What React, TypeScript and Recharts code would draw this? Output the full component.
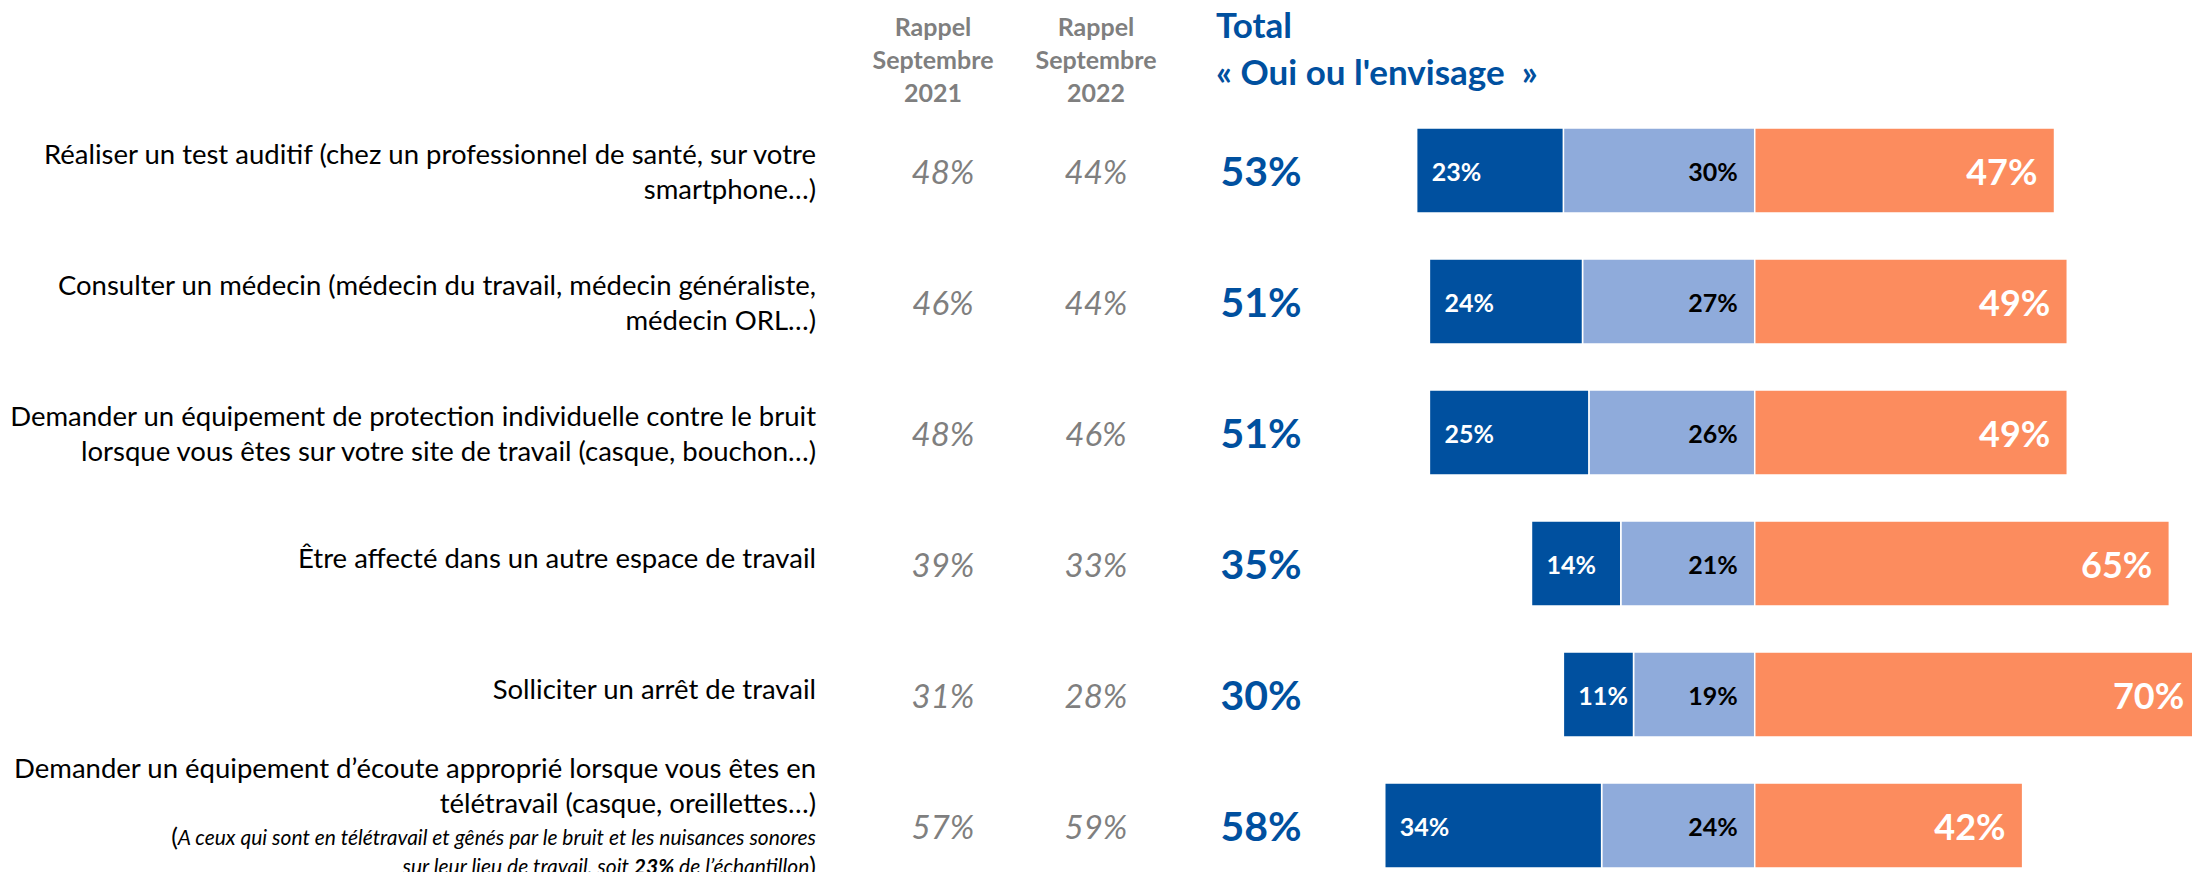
import React from 'react';
import { BarChart, Bar, XAxis, YAxis, LabelList } from 'recharts';

const FONT = 'Lato, "Open Sans", sans-serif';
const BLUE = '#00509F';
const LIGHT = '#8FABDB';
const ORANGE = '#FC8C5E';
const GREY = '#7F7F7F';

// libellés des actions (une entrée par ligne de texte)
const items: string[][] = [
  ['Réaliser un test auditif (chez un professionnel de santé, sur votre', 'smartphone…)'],
  ['Consulter un médecin (médecin du travail, médecin généraliste,', 'médecin ORL…)'],
  ['Demander un équipement de protection individuelle contre le bruit', 'lorsque vous êtes sur votre site de travail (casque, bouchon…)'],
  ['Être affecté dans un autre espace de travail'],
  ['Solliciter un arrêt de travail'],
  ['Demander un équipement d\u2019écoute approprié lorsque vous êtes en', 'télétravail (casque, oreillettes…)'],
];
const noteLine1 = 'A ceux qui sont en télétravail et gênés par le bruit et les nuisances sonores';
const noteLine2a = 'sur leur lieu de travail, soit ';
const noteLine2b = '23%';
const noteLine2c = ' de l\u2019échantillon';

const rappel2021 = [48, 46, 48, 39, 31, 57];
const rappel2022 = [44, 44, 46, 33, 28, 59];
const totalOui = [53, 51, 51, 35, 30, 58];
const ouiFait = [23, 24, 25, 14, 11, 34];
const envisage = [30, 27, 26, 21, 19, 24];
const non = [47, 49, 49, 65, 70, 42];

const data = items.map((lines, i) => ({
  name: lines.join(' '),
  envisage: -envisage[i],
  fait: -ouiFait[i],
  non: non[i],
}));

const RowTick = (props: any) => {
  const { y, index } = props;
  const lines = items[index] || [];
  const isLast = index === items.length - 1;
  const offsets = isLast ? [-58, -23] : lines.length === 1 ? [-6] : [-17, 18];
  return (
    <g fontFamily={FONT}>
      {lines.map((l, k) => (
        <text key={k} x={816} y={y + offsets[k]} textAnchor="end" dominantBaseline="central" fontSize={27.5} fill="#000">
          {l}
        </text>
      ))}
      {isLast && (
        <>
          <text x={816} y={y + 10} textAnchor="end" dominantBaseline="central" fontSize={21} fill="#000">
            <tspan fontSize={25}>(</tspan>
            <tspan fontStyle="italic">{noteLine1}</tspan>
          </text>
          <text x={816} y={y + 39} textAnchor="end" dominantBaseline="central" fontSize={21} fill="#000" fontStyle="italic">
            <tspan>{noteLine2a}</tspan>
            <tspan fontWeight={700}>{noteLine2b}</tspan>
            <tspan>{noteLine2c}</tspan>
            <tspan fontStyle="normal" fontSize={25}>)</tspan>
          </text>
        </>
      )}
      <text x={943} y={y} textAnchor="middle" dominantBaseline="central" fontSize={33} fontStyle="italic" fill={GREY}>
        {rappel2021[index]}%
      </text>
      <text x={1096} y={y} textAnchor="middle" dominantBaseline="central" fontSize={33} fontStyle="italic" fill={GREY}>
        {rappel2022[index]}%
      </text>
      <text x={1261} y={y} textAnchor="middle" dominantBaseline="central" fontSize={41} fontWeight={700} fill={BLUE}>
        {totalOui[index]}%
      </text>
    </g>
  );
};

const makeLabel = (side: 'start' | 'end', color: string, size: number) => (props: any) => {
  const vb = props.viewBox || props;
  const { x, y, width, height } = vb;
  const left = Math.min(x, x + width);
  const right = Math.max(x, x + width);
  const tx = side === 'start' ? left + 15 : right - 17;
  return (
    <text x={tx} y={y + height / 2} textAnchor={side} dominantBaseline="central" fill={color}
      fontSize={size} fontWeight={700} fontFamily={FONT}>
      {Math.abs(Number(props.value))}%
    </text>
  );
};

const headerStyle: React.CSSProperties = {
  position: 'absolute', width: 200, textAlign: 'center', fontFamily: FONT, fontWeight: 700,
  fontSize: 25, lineHeight: '33px', color: GREY, top: 10,
};

export default function App() {
  return (
    <div style={{ position: 'absolute', left: 0, top: 0, width: 2192, height: 872, overflow: 'hidden', background: '#fff' }}>
      <div style={{ ...headerStyle, left: 833 }}>Rappel<br />Septembre<br />2021</div>
      <div style={{ ...headerStyle, left: 996 }}>Rappel<br />Septembre<br />2022</div>
      <div style={{ position: 'absolute', left: 1216, top: 1, fontFamily: FONT, fontWeight: 700, fontSize: 35, lineHeight: '47px', color: BLUE, whiteSpace: 'pre' }}>
        {'Total\n« Oui ou l\'envisage  »'}
      </div>
      <BarChart width={2240} height={900} data={data} layout="vertical" stackOffset="sign"
        margin={{ top: 105, right: 26, bottom: 9, left: 0 }}>
        <XAxis type="number" domain={[-60, 72]} hide />
        <YAxis type="category" dataKey="name" width={1372} axisLine={false} tickLine={false} interval={0}
          tick={(p: any) => <RowTick {...p} />} />
        <Bar dataKey="envisage" stackId="a" fill={LIGHT} stroke="#fff" strokeWidth={1.5} barSize={85} isAnimationActive={false}>
          <LabelList dataKey="envisage" content={makeLabel('end', '#000', 25)} />
        </Bar>
        <Bar dataKey="fait" stackId="a" fill={BLUE} stroke="#fff" strokeWidth={1.5} barSize={85} isAnimationActive={false}>
          <LabelList dataKey="fait" content={makeLabel('start', '#fff', 25)} />
        </Bar>
        <Bar dataKey="non" stackId="a" fill={ORANGE} stroke="#fff" strokeWidth={1.5} barSize={85} isAnimationActive={false}>
          <LabelList dataKey="non" content={makeLabel('end', '#fff', 36)} />
        </Bar>
      </BarChart>
    </div>
  );
}
